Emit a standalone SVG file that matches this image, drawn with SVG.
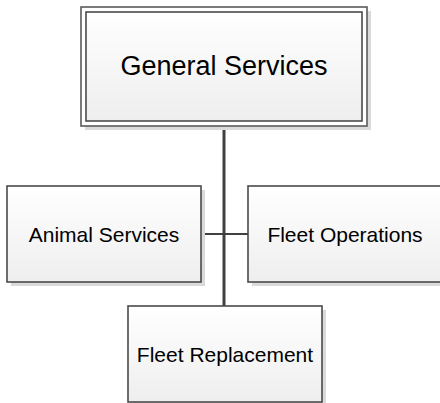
<svg xmlns="http://www.w3.org/2000/svg" width="440" height="403" viewBox="0 0 440 403">
<defs>
<linearGradient id="fill" x1="0" y1="0" x2="0" y2="1">
<stop offset="0" stop-color="#ffffff"/>
<stop offset="1" stop-color="#eeeeee"/>
</linearGradient>
</defs>
<style>
.shadow{fill:#dadada}
.box{fill:url(#fill);stroke:#4a4a4a;stroke-width:1.6}
.outer{fill:#ffffff;stroke:#5a5a5a;stroke-width:1.6}
.lbl{font-family:"Liberation Sans",Arial,sans-serif;fill:#000;text-anchor:middle}
.conn{stroke:#404040;fill:none}
</style>
<rect width="440" height="403" fill="#ffffff"/>
<g id="connectors">
<line class="conn" x1="224" y1="126" x2="224" y2="306" stroke-width="3"/>
<line class="conn" x1="201" y1="234" x2="248" y2="234" stroke-width="2.2"/>
</g>
<g id="general-services">
<rect class="shadow" x="85" y="11" width="286" height="119"/>
<rect class="outer" x="81" y="7" width="286" height="119"/>
<rect class="box" x="86" y="12" width="276" height="109"/>
<text class="lbl" x="224" y="75" font-size="27">General Services</text>
</g>
<g id="animal-services">
<rect class="shadow" x="11" y="190" width="194" height="96"/>
<rect class="box" x="7" y="186" width="194" height="96"/>
<text class="lbl" x="104" y="241.5" font-size="21">Animal Services</text>
</g>
<g id="fleet-operations">
<rect class="shadow" x="252" y="190" width="194" height="96"/>
<rect class="box" x="248" y="186" width="194" height="96"/>
<text class="lbl" x="345" y="241.5" font-size="21">Fleet Operations</text>
</g>
<g id="fleet-replacement">
<rect class="shadow" x="132" y="310" width="194" height="96"/>
<rect class="box" x="128" y="306" width="194" height="96"/>
<text class="lbl" x="225" y="361.5" font-size="21">Fleet Replacement</text>
</g>
</svg>
